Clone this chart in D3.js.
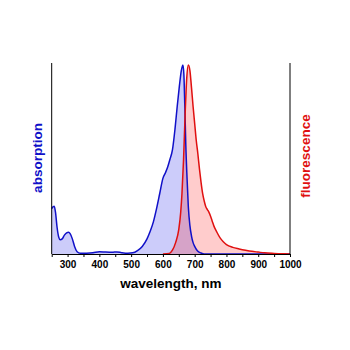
<!DOCTYPE html>
<html>
<head>
<meta charset="utf-8">
<script src="https://cdn.jsdelivr.net/npm/d3@7"></script>
<style>
html,body{margin:0;padding:0;background:#fff;}
svg{display:block;}
</style>
</head>
<body>
<script>
// Absorption spectrum (wavelength nm, normalized intensity)
const absWavelength = [250,255,258,262,267,272,277,283,290,297,303,308,315,322,330,340,360,380,400,420,440,455,470,490,505,520,535,550,560,570,580,590,600,608,615,622,630,638,645,652,658,663,666,669,672,676,680,685,690,695,700,705,710,720,730,760,1000];
const absValue      = [0.24,0.25,0.252,0.22,0.14,0.09,0.075,0.08,0.10,0.112,0.115,0.108,0.08,0.04,0.012,0.004,0.004,0.006,0.012,0.010,0.009,0.011,0.007,0.004,0.006,0.018,0.04,0.08,0.12,0.17,0.24,0.32,0.40,0.43,0.46,0.50,0.55,0.66,0.78,0.89,0.97,1.0,0.95,0.78,0.58,0.40,0.25,0.15,0.095,0.06,0.04,0.025,0.015,0.005,0.0,0.0,0.0];
// Fluorescence spectrum
const fluWavelength = [600,620,630,640,650,656,660,665,670,675,680,685,690,695,700,705,710,715,720,725,730,735,740,745,750,755,760,770,780,790,800,820,840,860,880,900,920,950,980,1000];
const fluValue      = [0.0,0.003,0.02,0.06,0.13,0.22,0.32,0.50,0.74,0.93,1.0,0.97,0.88,0.78,0.69,0.60,0.53,0.45,0.38,0.32,0.28,0.25,0.235,0.22,0.20,0.175,0.15,0.115,0.085,0.065,0.05,0.035,0.027,0.02,0.014,0.01,0.006,0.003,0.001,0.0];
const xTicks = [300,400,500,600,700,800,900,1000];
const xMinorTicks = [250,350,450,550,650,750,850,950];

const W = 350, H = 350;
const mLeft = 51.7, mRight = 290, mTop = 63, mBottom = 254;

const svg = d3.select("body").append("svg").attr("width", W).attr("height", H);

const x = d3.scaleLinear().domain([250, 1000]).range([mLeft, mRight]);
const y = d3.scaleLinear().domain([0, 1.01]).range([mBottom, mTop]);

const absData = absWavelength.map((w, i) => [w, absValue[i]]);
const fluData = fluWavelength.map((w, i) => [w, fluValue[i]]);

const area = d3.area().x(d => x(d[0])).y0(y(0)).y1(d => y(d[1])).curve(d3.curveMonotoneX);
const line = d3.line().x(d => x(d[0])).y(d => y(d[1])).curve(d3.curveMonotoneX);

svg.append("path").datum(absData).attr("d", area).attr("fill", "rgb(0,0,230)").attr("fill-opacity", 0.2);
svg.append("path").datum(fluData).attr("d", area).attr("fill", "rgb(255,0,0)").attr("fill-opacity", 0.2);
svg.append("path").datum(absData).attr("d", line).attr("fill", "none").attr("stroke", "#1010c8").attr("stroke-width", 1.5);
svg.append("path").datum(fluData).attr("d", line).attr("fill", "none").attr("stroke", "#e01010").attr("stroke-width", 1.5);

// Axes
const xAxis = svg.append("g").attr("transform", `translate(0,${mBottom})`)
  .call(d3.axisBottom(x).tickValues(xTicks).tickSize(3).tickSizeOuter(0).tickPadding(4).tickFormat(d3.format("d")));
xAxis.select(".domain").attr("stroke", "#000").attr("stroke-width", 1);
xAxis.selectAll(".tick line").attr("stroke", "#000");
xAxis.selectAll(".tick text").attr("font-family", "Liberation Sans, Arial, sans-serif")
  .attr("font-size", 10).attr("font-weight", "bold").attr("fill", "#000");
svg.append("g").attr("transform", `translate(0,${mBottom})`)
  .call(d3.axisBottom(x).tickValues(xMinorTicks).tickSize(3).tickFormat(""))
  .call(g => g.select(".domain").remove());

svg.append("line").attr("x1", mLeft).attr("x2", mLeft).attr("y1", mTop).attr("y2", mBottom).attr("stroke", "#000");
svg.append("line").attr("x1", mRight).attr("x2", mRight).attr("y1", mTop).attr("y2", mBottom).attr("stroke", "#000");

// Labels
svg.append("text").attr("x", (mLeft + mRight) / 2).attr("y", 288)
  .attr("text-anchor", "middle").attr("font-family", "Liberation Sans, Arial, sans-serif")
  .attr("font-size", 13.5).attr("font-weight", "bold").attr("fill", "#000").text("wavelength, nm");
svg.append("text").attr("transform", "translate(41.5,158) rotate(-90)")
  .attr("text-anchor", "middle").attr("font-family", "Liberation Sans, Arial, sans-serif")
  .attr("font-size", 13.5).attr("font-weight", "bold").attr("fill", "#1010c8").text("absorption");
svg.append("text").attr("transform", "translate(310,156) rotate(-90)")
  .attr("text-anchor", "middle").attr("font-family", "Liberation Sans, Arial, sans-serif")
  .attr("font-size", 13.5).attr("font-weight", "bold").attr("fill", "#e01010").text("fluorescence");
</script>
</body>
</html>
